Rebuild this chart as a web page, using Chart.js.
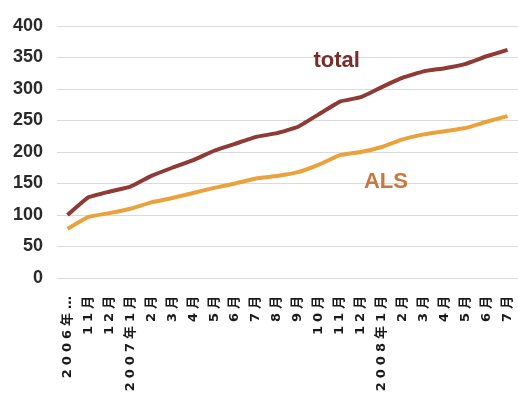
<!DOCTYPE html>
<html>
<head>
<meta charset="utf-8">
<script src="https://cdn.jsdelivr.net/npm/chart.js@4/dist/chart.umd.min.js"></script>
<style>
  html, body { margin: 0; padding: 0; background: #fff; }
  #wrap { width: 518px; height: 394px; }
</style>
</head>
<body>
<div id="wrap"><canvas id="alsChart" width="518" height="394"></canvas></div>
<script>
// months from 2006-10 to 2008-07
const months = [
  '2006年10月', '2006年11月', '2006年12月',
  '2007年1月', '2007年2月', '2007年3月', '2007年4月', '2007年5月', '2007年6月',
  '2007年7月', '2007年8月', '2007年9月', '2007年10月', '2007年11月', '2007年12月',
  '2008年1月', '2008年2月', '2008年3月', '2008年4月', '2008年5月', '2008年6月', '2008年7月',
];
const tickLabels = [
  '2006年…', '11月', '12月',
  '2007年1月', '2月', '3月', '4月', '5月', '6月', '7月', '8月', '9月', '10月', '11月', '12月',
  '2008年1月', '2月', '3月', '4月', '5月', '6月', '7月',
];
const totalValues = [100, 128, 137, 145, 162, 175, 187, 202, 213, 224, 230, 240, 260, 280, 287, 303, 318, 328, 333, 340, 352, 362];
const alsValues = [78, 97, 103, 110, 120, 127, 135, 143, 150, 158, 162, 168, 180, 195, 200, 208, 220, 228, 233, 238, 248, 257];
const yTicks = [0, 50, 100, 150, 200, 250, 300, 350, 400];

// series names written next to the lines: [text, category index, value, colour]
const seriesNotes = [
  ['total', 12.85, 345, '#7a2c2c'],
  ['ALS', 15.2, 152, '#c8773f'],
];

const notesPlugin = {
  id: 'notes',
  beforeDraw(chart) {
    // stretch the rotated month labels, like the original print
    const xs = chart.scales.x;
    if (xs && !xs._spaced) {
      const orig = xs.drawLabels.bind(xs);
      xs.drawLabels = function (area) {
        chart.ctx.save();
        chart.ctx.letterSpacing = '4px';
        orig(area);
        chart.ctx.restore();
      };
      xs._spaced = true;
    }
  },
  afterDatasetsDraw(chart) {
    const { ctx, scales } = chart;
    ctx.save();
    ctx.font = 'bold 22px "Liberation Sans", sans-serif';
    ctx.textAlign = 'center';
    ctx.textBaseline = 'middle';
    seriesNotes.forEach(([text, idx, val, color]) => {
      ctx.fillStyle = color;
      ctx.fillText(text, scales.x.getPixelForValue(idx), scales.y.getPixelForValue(val));
    });
    ctx.restore();
  },
};

new Chart(document.getElementById('alsChart').getContext('2d'), {
  type: 'line',
  data: {
    labels: months,
    datasets: [
      {
        label: 'total',
        data: totalValues,
        borderColor: '#8e3b36',
        borderWidth: 4,
        pointRadius: 0,
        tension: 0.1,
      },
      {
        label: 'ALS',
        data: alsValues,
        borderColor: '#eba23c',
        borderWidth: 4,
        pointRadius: 0,
        tension: 0.1,
      },
    ],
  },
  options: {
    responsive: false,
    animation: false,
    layout: { padding: { top: 26, right: 0, left: 0, bottom: 0 } },
    plugins: { legend: { display: false }, tooltip: { enabled: false } },
    scales: {
      x: {
        offset: true,
        grid: { display: false },
        border: { display: false },
        ticks: {
          autoSkip: false,
          maxRotation: 90,
          minRotation: 90,
          padding: 6,
          color: '#1a1a1a',
          font: { family: '"DejaVu Sans", "Noto Sans CJK SC", sans-serif', size: 13, weight: 'bold' },
          callback: (v, i) => tickLabels[i],
        },
        afterFit: (s) => { s.height = 116; s.paddingLeft = 0; s.paddingRight = 0; },
      },
      y: {
        min: 0,
        max: 400,
        afterBuildTicks: (s) => { s.ticks = yTicks.map((v) => ({ value: v })); },
        grid: { color: '#dadada', lineWidth: 1, drawTicks: false },
        border: { display: false },
        ticks: {
          padding: 14,
          color: '#2a2a2a',
          font: { family: '"Liberation Sans", sans-serif', size: 18, weight: 'bold' },
        },
        afterFit: (s) => { s.width = 57; },
      },
    },
  },
  plugins: [notesPlugin],
});
</script>
</body>
</html>
